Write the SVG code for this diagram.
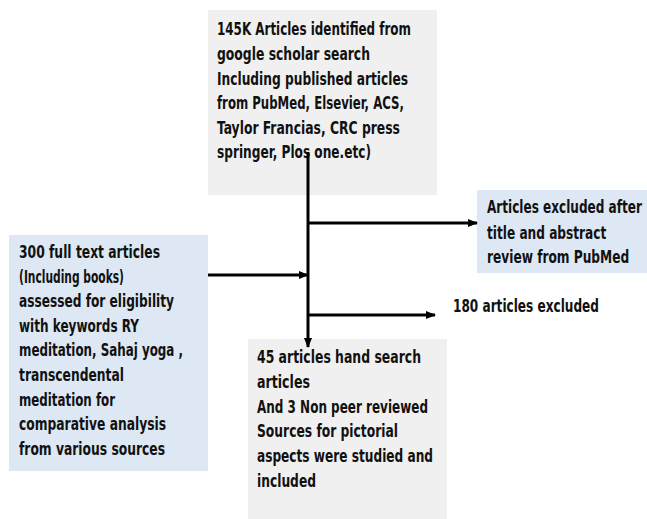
<svg xmlns="http://www.w3.org/2000/svg" width="647" height="519" viewBox="0 0 647 519">
<style>
.t{font-family:"DejaVu Sans Condensed","DejaVu Sans","Liberation Sans",sans-serif;font-stretch:condensed;font-weight:bold;font-size:17px;fill:#111}
.grey{fill:#f0f0f0}
.blue{fill:#dde8f4}
.ln{stroke:#000;stroke-width:3;fill:none}
</style>
<defs>
<marker id="ah" markerWidth="10" markerHeight="8" refX="9" refY="4" orient="auto" markerUnits="userSpaceOnUse">
<path d="M0,0 L10,4 L0,8 Z" fill="#000"/>
</marker>
</defs>
<rect width="647" height="519" fill="#fff"/>
<g id="n-top">
<rect class="grey" x="208" y="10" width="229" height="185"/>
<text class="t"><tspan x="217" y="35" textLength="194" lengthAdjust="spacingAndGlyphs">145K Articles identified from</tspan><tspan x="217" y="60" textLength="153" lengthAdjust="spacingAndGlyphs">google scholar search</tspan><tspan x="217" y="85" textLength="191" lengthAdjust="spacingAndGlyphs">Including published articles</tspan><tspan x="217" y="109" textLength="187" lengthAdjust="spacingAndGlyphs">from PubMed, Elsevier, ACS,</tspan><tspan x="217" y="134" textLength="183" lengthAdjust="spacingAndGlyphs">Taylor Francias, CRC press</tspan><tspan x="217" y="158" textLength="154" lengthAdjust="spacingAndGlyphs">springer, Plos one.etc)</tspan></text>
</g>
<g id="n-left">
<rect class="blue" x="9" y="235" width="199" height="236"/>
<text class="t"><tspan x="19" y="258" textLength="141" lengthAdjust="spacingAndGlyphs">300 full text articles</tspan><tspan x="19" y="283" textLength="105" lengthAdjust="spacingAndGlyphs">(Including books)</tspan><tspan x="19" y="307" textLength="155" lengthAdjust="spacingAndGlyphs">assessed for eligibility</tspan><tspan x="19" y="332" textLength="120" lengthAdjust="spacingAndGlyphs">with keywords RY</tspan><tspan x="19" y="356" textLength="164" lengthAdjust="spacingAndGlyphs">meditation, Sahaj yoga ,</tspan><tspan x="19" y="381" textLength="105" lengthAdjust="spacingAndGlyphs">transcendental</tspan><tspan x="19" y="406" textLength="96" lengthAdjust="spacingAndGlyphs">meditation for</tspan><tspan x="19" y="430" textLength="147" lengthAdjust="spacingAndGlyphs">comparative analysis</tspan><tspan x="19" y="455" textLength="146" lengthAdjust="spacingAndGlyphs">from various sources</tspan></text>
</g>
<g id="n-excl1">
<rect class="blue" x="477" y="190" width="170" height="83"/>
<g transform="translate(487,0) scale(0.79,1)">
<text class="t"><tspan x="0" y="213" textLength="196" lengthAdjust="spacingAndGlyphs">Articles excluded after</tspan><tspan x="0" y="239" textLength="151" lengthAdjust="spacingAndGlyphs">title and abstract</tspan><tspan x="0" y="263" textLength="180" lengthAdjust="spacingAndGlyphs">review from PubMed</tspan></text>
</g>
</g>
<g id="n-excl2">
<text class="t" x="453" y="312" textLength="146" lengthAdjust="spacingAndGlyphs">180 articles excluded</text>
</g>
<g id="n-bottom">
<rect class="grey" x="248" y="339" width="199" height="180"/>
<text class="t"><tspan x="257" y="363" textLength="164" lengthAdjust="spacingAndGlyphs">45 articles hand search</tspan><tspan x="257" y="388" textLength="53" lengthAdjust="spacingAndGlyphs">articles</tspan><tspan x="257" y="413" textLength="171" lengthAdjust="spacingAndGlyphs">And 3 Non peer reviewed</tspan><tspan x="257" y="437" textLength="141" lengthAdjust="spacingAndGlyphs">Sources for pictorial</tspan><tspan x="257" y="462" textLength="176" lengthAdjust="spacingAndGlyphs">aspects were studied and</tspan><tspan x="257" y="487" textLength="59" lengthAdjust="spacingAndGlyphs">included</tspan></text>
</g>
<g id="connectors">
<line class="ln" x1="308" y1="152" x2="308" y2="347" marker-end="url(#ah)"/>
<line class="ln" x1="308" y1="223" x2="477" y2="223" marker-end="url(#ah)"/>
<line class="ln" x1="208" y1="275" x2="308" y2="275" marker-end="url(#ah)"/>
<line class="ln" x1="308" y1="315" x2="435" y2="315" marker-end="url(#ah)"/>
</g>
</svg>
